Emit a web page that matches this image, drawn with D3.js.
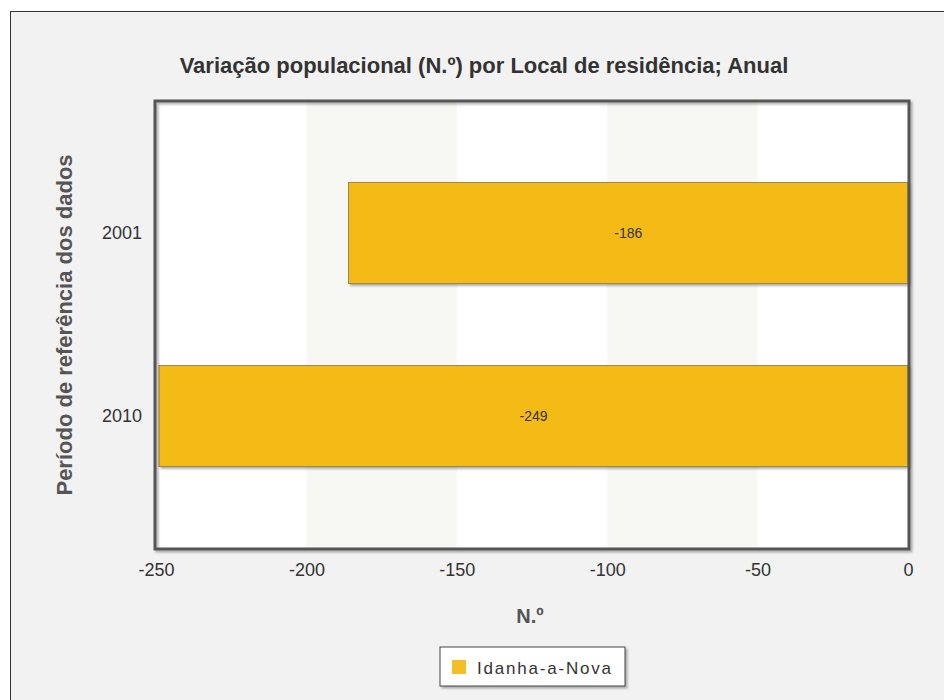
<!DOCTYPE html>
<html lang="pt">
<head>
<meta charset="UTF-8">
<title>Variação populacional</title>
<script src="https://cdn.jsdelivr.net/npm/d3@7"></script>
<style>
body { margin: 0; background: #fff; }
svg text { font-family: 'Liberation Sans', Arial, sans-serif; }
</style>
</head>
<body>
<svg id="chart" width="944" height="700"></svg>
<script>
// data
var years = ["2001", "2010"];
var values = [-186, -249];
var xTicks = [-250, -200, -150, -100, -50, 0];
var seriesName = "Idanha-a-Nova";

var svg = d3.select("#chart");
var fontFam = "'Liberation Sans', Arial, sans-serif";

// outer frame
svg.append("rect")
  .attr("x", 10.5).attr("y", 11.5)
  .attr("width", 960).attr("height", 720)
  .attr("fill", "#f2f2f2").attr("stroke", "#333").attr("stroke-width", 1);

var plot = { left: 155, top: 101, right: 909, bottom: 549 };

var x = d3.scaleLinear().domain([-250, 0]).range([156, 908]);
var y = d3.scaleBand().domain(years)
  .range([141.5, 507.5])
  .paddingInner(0.448)
  .paddingOuter(0.224);

// shadow filter
var defs = svg.append("defs");
var f = defs.append("filter").attr("id", "shadow").attr("x", "-5%").attr("y", "-5%").attr("width", "115%").attr("height", "130%");
f.append("feDropShadow").attr("dx", 2).attr("dy", 2).attr("stdDeviation", 1.2).attr("flood-color", "#000").attr("flood-opacity", 0.3);

// plot background
svg.append("rect")
  .attr("x", plot.left).attr("y", plot.top)
  .attr("width", plot.right - plot.left).attr("height", plot.bottom - plot.top)
  .attr("fill", "#fff");

// alternating bands
var bands = d3.pairs(xTicks).filter(function (d, i) { return i % 2 === 1; });
svg.selectAll(".band").data(bands).enter().append("rect")
  .attr("class", "band")
  .attr("x", function (d) { return x(d[0]); })
  .attr("y", plot.top)
  .attr("width", function (d) { return x(d[1]) - x(d[0]); })
  .attr("height", plot.bottom - plot.top)
  .attr("fill", "#f7f7f4");

// bars
var data = years.map(function (yr, i) { return { year: yr, value: values[i] }; });
svg.selectAll(".bar").data(data).enter().append("rect")
  .attr("class", "bar")
  .attr("x", function (d) { return x(d.value); })
  .attr("y", function (d) { return y(d.year); })
  .attr("width", function (d) { return x(0) - x(d.value); })
  .attr("height", y.bandwidth())
  .attr("fill", "#f4ba12")
  .attr("stroke", "#9c8a4a")
  .attr("stroke-width", 1)
  .attr("filter", "url(#shadow)");

svg.selectAll(".val").data(data).enter().append("text")
  .attr("class", "val")
  .attr("x", function (d) { return (x(d.value) + x(0)) / 2; })
  .attr("y", function (d) { return y(d.year) + y.bandwidth() / 2 + 5; })
  .attr("text-anchor", "middle")
  .attr("font-size", 14)
  .attr("fill", "#333")
  .text(function (d) { return String(d.value); });

// plot border
svg.append("rect")
  .attr("x", plot.left).attr("y", plot.top)
  .attr("width", plot.right - plot.left).attr("height", plot.bottom - plot.top)
  .attr("fill", "none").attr("stroke", "#555").attr("stroke-width", 3)
  .attr("filter", "url(#shadow)");

// x axis (plain hyphen minus like the original)
var xAxis = d3.axisBottom(x).tickValues(xTicks).tickSize(0).tickPadding(14)
  .tickFormat(function (d) { return String(d); });
var gx = svg.append("g").attr("transform", "translate(0," + plot.bottom + ")").call(xAxis);
gx.select(".domain").remove();
gx.selectAll("text").attr("font-size", 18).attr("fill", "#333").attr("font-family", fontFam);

// y axis
var yAxis = d3.axisLeft(y).tickSize(0).tickPadding(13);
var gy = svg.append("g").attr("transform", "translate(" + plot.left + ",0)").call(yAxis);
gy.select(".domain").remove();
gy.selectAll("text").attr("font-size", 18).attr("fill", "#333").attr("font-family", fontFam);

// titles
svg.append("text")
  .attr("x", 484).attr("y", 73)
  .attr("text-anchor", "middle")
  .attr("font-size", 22).attr("font-weight", "bold").attr("fill", "#333")
  .text("Variação populacional (N.º) por Local de residência; Anual");

svg.append("text")
  .attr("transform", "translate(72,325) rotate(-90)")
  .attr("text-anchor", "middle")
  .attr("font-size", 22).attr("font-weight", "bold").attr("fill", "#555")
  .text("Período de referência dos dados");

svg.append("text")
  .attr("x", 530).attr("y", 623)
  .attr("text-anchor", "middle")
  .attr("font-size", 20).attr("font-weight", "bold").attr("fill", "#555")
  .text("N.º");

// legend
var lg = svg.append("g").attr("transform", "translate(440,647)");
lg.append("rect")
  .attr("width", 185).attr("height", 39)
  .attr("fill", "#fff").attr("stroke", "#444").attr("stroke-width", 1)
  .attr("filter", "url(#shadow)");
lg.append("rect")
  .attr("x", 12).attr("y", 13).attr("width", 14).attr("height", 14)
  .attr("fill", "#f3be26");
lg.append("text")
  .attr("x", 37).attr("y", 27)
  .attr("font-size", 17).attr("fill", "#333").attr("letter-spacing", 1.8)
  .text(seriesName);
</script>
</body>
</html>
